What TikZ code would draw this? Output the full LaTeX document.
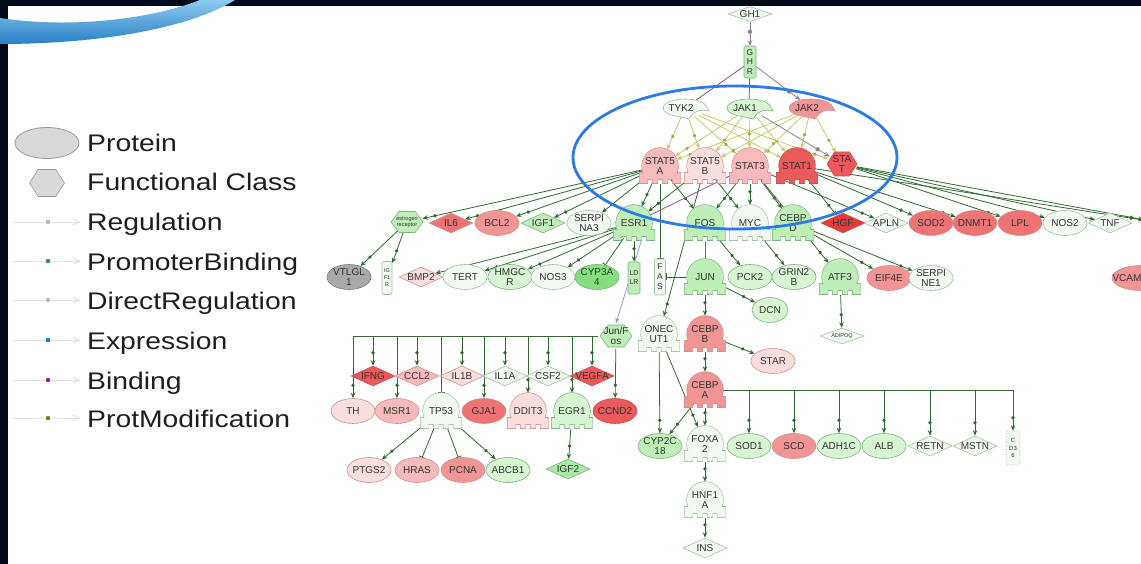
\documentclass[tikz,border=0pt]{standalone}
\usepackage{fontspec}
\setmainfont{Liberation Sans}
\usepackage{graphicx}
\usetikzlibrary{shapes.geometric,arrows.meta,decorations.markings}
\pgfdeclarelayer{bg}
\pgfdeclarelayer{edges}
\pgfsetlayers{bg,edges,main}

\definecolor{tcol}{HTML}{333333}
\definecolor{eG}{HTML}{2F6B2F}
\definecolor{kE}{HTML}{C9C86C}
\definecolor{kD}{HTML}{A6A640}
\definecolor{gE}{HTML}{85859A}
\definecolor{pE}{HTML}{9A4C9A}
\definecolor{lE}{HTML}{9898E4}
\definecolor{fW}{HTML}{F1F9F1}
\definecolor{fLG}{HTML}{D7F5D3}
\definecolor{fG}{HTML}{BDEFB7}
\definecolor{fG2}{HTML}{84DF7E}
\definecolor{fIG}{HTML}{A8EAA2}
\definecolor{fLP}{HTML}{FADDDD}
\definecolor{fP}{HTML}{F6BABA}
\definecolor{fR}{HTML}{F09494}
\definecolor{fR2}{HTML}{EE7474}
\definecolor{fRR}{HTML}{EA5A5A}
\definecolor{fRed}{HTML}{E43A3A}
\definecolor{fGray}{HTML}{A9A9A9}
\definecolor{sW}{HTML}{A3C2A3}
\definecolor{sG}{HTML}{7DB37D}
\definecolor{sP}{HTML}{D29090}
\definecolor{sR}{HTML}{C55252}
\definecolor{sGray}{HTML}{7B7B7B}
\definecolor{frameC}{HTML}{020B1D}
\definecolor{blueC}{HTML}{2A7BE4}
\definecolor{lgF}{HTML}{D9D9D9}
\definecolor{lgS}{HTML}{9A9A9A}
\definecolor{lgL}{HTML}{E2E2E2}
\definecolor{lgT}{HTML}{1E1E1E}
\definecolor{swA}{HTML}{8CCAF0}
\definecolor{swB}{HTML}{2A80C6}
\definecolor{dotReg}{HTML}{B8B8B8}
\definecolor{dotPB}{HTML}{22A032}
\definecolor{dotEx}{HTML}{1E78D8}
\definecolor{dotBi}{HTML}{8B1A8B}
\definecolor{dotPM}{HTML}{7A7A1A}

\newcommand\nf{\fontsize{10}{10.5}\selectfont}
\newcommand\lgf{\fontsize{24}{28}\selectfont}

% transcription regulator: name, x, y, fill, stroke, text
\newcommand\treg[6]{%
\begin{scope}[shift={(#2,#3)}]
\draw[draw=#5,line width=1.3pt] (15.59,9) arc[start angle=30,end angle=-210,radius=18] -- cycle;
\draw[draw=#5,line width=1.3pt] (-20.5,7) -- (20.5,7) -- (20.5,17) -- (12.5,17) -- (12.5,13) -- (7.5,13) -- (7.5,17) -- (2.5,17) -- (2.5,13) -- (-2.5,13) -- (-2.5,17) -- (-7.5,17) -- (-7.5,13) -- (-12.5,13) -- (-12.5,17) -- (-20.5,17) -- cycle;
\fill[#4] (15.59,9) arc[start angle=30,end angle=-210,radius=18] -- cycle;
\fill[#4] (-20.5,7) -- (20.5,7) -- (20.5,17) -- (12.5,17) -- (12.5,13) -- (7.5,13) -- (7.5,17) -- (2.5,17) -- (2.5,13) -- (-2.5,13) -- (-2.5,17) -- (-7.5,17) -- (-7.5,13) -- (-12.5,13) -- (-12.5,17) -- (-20.5,17) -- cycle;
\end{scope}
\node[circle,minimum size=36pt,inner sep=0pt,align=center,font=\nf,text=tcol] (#1) at (#2,#3) {#6};}

% kinase: name, x, y, fill, stroke, text
\newcommand\kin[6]{%
\filldraw[fill=#4,draw=#5,line width=0.6pt,shift={(#2,#3)}] (105:22 and 9) arc[start angle=105,end angle=355,x radius=22,y radius=9] -- (24,3) .. controls (14,1) and (9,3) .. (4,11) -- cycle;
\node[ellipse,minimum width=44pt,minimum height=18pt,inner sep=0pt,font=\nf,text=tcol,label={[font=\nf,text=tcol,inner sep=0pt,xshift=-4pt]center:#6}] (#1) at (#2,#3) {};}

% hexagon: name, x, y, w, h, fill, stroke, font, text
\newcommand\hexn[9]{%
\filldraw[fill=#6,draw=#7,line width=0.6pt,shift={(#2,#3)}] ({-#4/2},0) -- ({-#4/4},{-#5/2}) -- ({#4/4},{-#5/2}) -- ({#4/2},0) -- ({#4/4},{#5/2}) -- ({-#4/4},{#5/2}) -- cycle;
\node[ellipse,minimum width=#4pt,minimum height=#5pt,inner sep=0pt,align=center,font=#8,text=tcol] (#1) at (#2,#3) {#9};}

\begin{document}
\begin{tikzpicture}[x=1pt,y=-1pt,
  lab/.style={font=\nf,text=tcol,align=center,inner sep=0pt},
  ell/.style={ellipse,line width=0.6pt,minimum width=44pt,minimum height=25pt,inner sep=0pt,label={[lab]center:#1}},
  dia/.style={diamond,line width=0.6pt,minimum width=44pt,minimum height=20pt,inner sep=0pt,label={[lab]center:#1}},
  vr/.style={rectangle,line width=0.6pt,rounded corners=1.5pt,inner sep=0.5pt,align=center,text=tcol},
  eg/.style={draw=eG,line width=0.8pt},
  tipA/.style={-{Stealth[length=5.5pt,width=4.5pt]}},
  pb/.style={eg,tipA,postaction={decorate},decoration={markings,mark=at position -13pt with {\fill[eG] (0,0) circle[radius=1.9pt];}}},
  inh/.style={eg,-{Bar[width=7pt]}},
  km/.style={draw=kE,line width=0.8pt,tipA,postaction={decorate},decoration={markings,mark=at position -14pt with {\fill[kD] (0,0) circle[radius=1.9pt];}}},
  gr/.style={draw=gE,line width=0.8pt,tipA,postaction={decorate},decoration={markings,mark=at position -14pt with {\fill[gE] (0,0) circle[radius=2.2pt];}}},
  bind/.style={draw=pE,line width=0.8pt},
  lav/.style={draw=lE,line width=0.8pt,tipA},
  lgtext/.style={anchor=base west,font=\lgf,text=lgT,inner sep=0pt}
]
\useasboundingbox (0,0) rectangle (1141,564);

\begin{pgfonlayer}{bg}
\fill[white] (0,0) rectangle (1141,564);
\fill[frameC] (0,0) rectangle (1141,6);
\fill[frameC] (0,0) rectangle (8,564);
\shade[top color=swA,bottom color=swB] (0,18) .. controls (80,30) and (160,16) .. (200,0) -- (235,0) .. controls (190,28) and (100,44) .. (0,44) -- cycle;
\end{pgfonlayer}

% ---------- legend ----------
\node[ellipse,draw=lgS,fill=lgF,line width=0.8pt,minimum width=64pt,minimum height=31pt] (lgProt) at (47,143) {};
\hexn{lgFC}{47}{183}{35}{27}{lgF}{lgS}{\nf}{}
\node[lgtext] (tProt) at (87,152) {\scalebox{1.18}[1]{Protein}};
\node[lgtext] (tFC) at (87,191) {\scalebox{1.18}[1]{Functional Class}};
\node[lgtext] (tReg) at (87,231) {\scalebox{1.18}[1]{Regulation}};
\node[lgtext] (tPB) at (87,270) {\scalebox{1.18}[1]{PromoterBinding}};
\node[lgtext] (tDR) at (87,309) {\scalebox{1.18}[1]{DirectRegulation}};
\node[lgtext] (tEx) at (87,349) {\scalebox{1.18}[1]{Expression}};
\node[lgtext] (tBi) at (87,389) {\scalebox{1.18}[1]{Binding}};
\node[lgtext] (tPM) at (87,427) {\scalebox{1.18}[1]{ProtModification}};
\foreach \yy in {222,261,300,340,380,418}{
  \draw[lgL,line width=0.9pt] (13,\yy) -- (80,\yy);
  \draw[lgL,line width=0.9pt] (73,\yy-3) -- (79,\yy) -- (73,\yy+3);
}
\fill[dotReg] (45.8,219.8) rectangle (50.2,224.2);
\fill[dotPB] (48,261) circle[radius=2.2];
\fill[dotReg] (48,300) circle[radius=2.2];
\fill[dotEx] (45.8,337.8) rectangle (50.2,342.2);
\fill[dotBi] (48,380) circle[radius=2.2];
\fill[dotPM] (48,418) circle[radius=2.2];

% ---------- top ----------
\node[dia=GH1,fill=fW,draw=sW,minimum height=15pt] (GH1) at (750,14) {};
\node[vr,fill=fG,draw=sG,minimum width=12pt,minimum height=32pt,font=\fontsize{8.5}{9.5}\selectfont] (GHR) at (750,62) {G\\H\\R};
\kin{TYK2}{685}{108}{fW}{sW}{TYK2}
\kin{JAK1}{749}{108}{fLG}{sG}{JAK1}
\kin{JAK2}{811}{108}{fR}{sP}{JAK2}

\treg{STAT5A}{660}{166}{fP}{sP}{STAT5\\A}
\treg{STAT5B}{705}{166}{fLP}{sP}{STAT5\\B}
\treg{STAT3}{750}{166}{fP}{sP}{STAT3}
\treg{STAT1}{797}{166}{fRR}{sR}{STAT1}
\hexn{STAT}{842}{164}{30}{24}{fRR}{sR}{\nf}{STA\\T}

% ---------- row 2 ----------
\hexn{ER}{407}{222}{32}{21}{fG}{sG}{\fontsize{5.5}{6}\selectfont}{estrogen\\receptor}
\node[dia=IL6,fill=fR2,draw=sP] (IL6) at (451,223) {};
\node[ell=BCL2,fill=fR,draw=sP] (BCL2) at (497,223) {};
\node[dia=IGF1,fill=fG,draw=sG] (IGF1) at (543,223) {};
\node[ell={SERPI\\NA3},fill=fW,draw=sW] (SERPINA3) at (589,223) {};
\treg{ESR1}{634}{223}{fG}{sG}{ESR1}
\treg{FOS}{705}{223}{fG}{sG}{FOS}
\treg{MYC}{750}{223}{fW}{sW}{MYC}
\treg{CEBPD}{793}{223}{fG}{sG}{CEBP\\D}
\node[dia=HGF,fill=fRed,draw=sR] (HGF) at (843,223) {};
\node[dia=APLN,fill=fW,draw=sW] (APLN) at (886,223) {};
\node[ell=SOD2,fill=fR2,draw=sP] (SOD2) at (931,223) {};
\node[ell=DNMT1,fill=fR2,draw=sP] (DNMT1) at (975,223) {};
\node[ell=LPL,fill=fR2,draw=sP] (LPL) at (1020,223) {};
\node[ell=NOS2,fill=fW,draw=sW] (NOS2) at (1065,223) {};
\node[dia=TNF,fill=fW,draw=sW] (TNF) at (1110,223) {};
\treg{RED}{1162}{223}{fRR}{sR}{}

% ---------- row 3 ----------
\node[ell={VTLGL\\1},fill=fGray,draw=sGray] (VTLGL1) at (349,277) {};
\node[vr,fill=fW,draw=sW,minimum width=10pt,minimum height=33pt,font=\fontsize{5.5}{7}\selectfont] (IGF1R) at (387,278) {IG\\F1\\R};
\node[dia=BMP2,fill=fLP,draw=sP] (BMP2) at (421,277) {};
\node[ell=TERT,fill=fW,draw=sW] (TERT) at (465,277) {};
\node[ell={HMGC\\R},fill=fLG,draw=sG] (HMGCR) at (510,277) {};
\node[ell=NOS3,fill=fW,draw=sW] (NOS3) at (553,277) {};
\node[ell={CYP3A\\4},fill=fG2,draw=sG] (CYP3A4) at (597,277) {};
\node[vr,fill=fG,draw=sG,minimum width=12pt,minimum height=32pt,font=\fontsize{7}{9}\selectfont] (LDLR) at (634,278) {LD\\LR};
\node[vr,fill=fW,draw=sW,minimum width=11pt,minimum height=36pt,font=\fontsize{8.5}{10}\selectfont] (FAS) at (660,277) {F\\A\\S};
\treg{JUN}{705}{277}{fG}{sG}{JUN}
\node[ell=PCK2,fill=fLG,draw=sG] (PCK2) at (750,277) {};
\node[ell={GRIN2\\B},fill=fLG,draw=sG] (GRIN2B) at (794,277) {};
\treg{ATF3}{840}{277}{fG}{sG}{ATF3}
\node[ell=EIF4E,fill=fR,draw=sP] (EIF4E) at (889,278) {};
\node[ell={SERPI\\NE1},fill=fW,draw=sW] (SERPINE1) at (931,278) {};
\node[ellipse,fill=fR,draw=sP,line width=0.6pt,minimum width=58pt,minimum height=25pt,inner sep=0pt,label={[lab,xshift=-14pt]center:VCAM}] (VCAM1) at (1141,278) {};
\node[ell=DCN,fill=fLG,draw=sG,minimum width=36pt] (DCN) at (770,310) {};
\node[diamond,fill=fW,draw=sW,line width=0.6pt,minimum width=44pt,minimum height=16pt,inner sep=0pt,label={[lab,font=\fontsize{5.5}{6}\selectfont]center:ADIPOQ}] (ADIPOQ) at (842,336) {};

% ---------- row 4 / 5 ----------
\hexn{JunFos}{616}{336}{32}{22}{fG}{sG}{\nf}{Jun/F\\os}
\treg{ONECUT1}{659}{334}{fW}{sW}{ONEC\\UT1}
\treg{CEBPB}{705}{334}{fR}{sP}{CEBP\\B}
\node[ell=STAR,fill=fLP,draw=sP] (STAR) at (773,361) {};
\treg{CEBPA}{705}{390}{fR}{sP}{CEBP\\A}
\node[ell={CYP2C\\18},fill=fG,draw=sG] (CYP2C18) at (660,446) {};
\treg{FOXA2}{705}{444}{fW}{sW}{FOXA\\2}
\node[ell=SOD1,fill=fLG,draw=sG] (SOD1) at (749,446) {};
\node[ell=SCD,fill=fR,draw=sP] (SCD) at (794,446) {};
\node[ell=ADH1C,fill=fLG,draw=sG] (ADH1C) at (839,446) {};
\node[ell=ALB,fill=fLG,draw=sG] (ALB) at (884,446) {};
\node[dia=RETN,fill=fW,draw=sW] (RETN) at (930,446) {};
\node[dia=MSTN,fill=fW,draw=sW] (MSTN) at (975,446) {};
\node[vr,fill=fW,draw=sW,dotted,minimum width=13pt,minimum height=34pt,font=\fontsize{6}{7.5}\selectfont] (CD36) at (1013,448) {C\\D3\\6};
\treg{HNF1A}{705}{500}{fW}{sW}{HNF1\\A}
\node[dia=INS,fill=fW,draw=sW] (INS) at (705,548) {};

% ---------- left cluster ----------
\node[dia=IFNG,fill=fRR,draw=sR] (IFNG) at (373,376) {};
\node[dia=CCL2,fill=fP,draw=sP] (CCL2) at (417,376) {};
\node[dia=IL1B,fill=fLP,draw=sP] (IL1B) at (462,376) {};
\node[dia=IL1A,fill=fW,draw=sW] (IL1A) at (505,376) {};
\node[dia=CSF2,fill=fW,draw=sW] (CSF2) at (548,376) {};
\node[dia=VEGFA,fill=fRR,draw=sR] (VEGFA) at (592,376) {};
\node[ell=TH,fill=fLP,draw=sP] (TH) at (353,411) {};
\node[ell=MSR1,fill=fP,draw=sP] (MSR1) at (397,411) {};
\treg{TP53}{441}{411}{fW}{sW}{TP53}
\node[ell=GJA1,fill=fR2,draw=sP] (GJA1) at (484,411) {};
\treg{DDIT3}{528}{411}{fLP}{sP}{DDIT3}
\treg{EGR1}{572}{411}{fLG}{sG}{EGR1}
\node[ell=CCND2,fill=fRR,draw=sR] (CCND2) at (615,411) {};
\node[ell=PTGS2,fill=fLP,draw=sP] (PTGS2) at (369,470) {};
\node[ell=HRAS,fill=fP,draw=sP] (HRAS) at (417,470) {};
\node[ell=PCNA,fill=fR,draw=sP] (PCNA) at (463,470) {};
\node[ell=ABCB1,fill=fLG,draw=sG] (ABCB1) at (508,470) {};
\node[dia=IGF2,fill=fIG,draw=sG] (IGF2) at (568,469) {};

% ---------- edges ----------
\begin{pgfonlayer}{edges}
\clip (0,0) rectangle (1141,564);
\draw[gr] (GH1) -- (GHR);
\draw[bind] (GHR) -- (TYK2);
\draw[bind] (GHR) -- (JAK1);
\draw[gr] (GHR) -- (JAK2);
\foreach \a/\b in {TYK2/STAT5A,TYK2/STAT5B,TYK2/STAT3,TYK2/STAT1,TYK2/STAT,JAK1/STAT5A,JAK1/STAT5B,JAK1/STAT3,JAK1/STAT1,JAK2/STAT5A,JAK2/STAT5B,JAK2/STAT3,JAK2/STAT1,JAK2/STAT}
  \draw[km] (\a) -- (\b);
\draw[gr] (JAK1) -- (STAT);
\foreach \a/\b in {STAT5A/ER,STAT5A/IL6,STAT5A/BCL2,STAT5A/IGF1,STAT5A/SERPINA3,STAT5A/ESR1,STAT5B/ESR1,STAT5A/FOS,STAT3/FOS,STAT5B/MYC,STAT3/MYC,STAT3/CEBPD,STAT1/HGF,STAT3/APLN,STAT1/SOD2,STAT1/DNMT1,STAT/LPL,STAT/NOS2,STAT/TNF,STAT/RED,STAT1/RED,STAT3/ATF3,CEBPD/EIF4E,CEBPD/SERPINE1,STAT5B/ONECUT1,ER/VTLGL1,ER/IGF1R,ESR1/BMP2,ESR1/TERT,ESR1/HMGCR,ESR1/NOS3,ESR1/LDLR,FOS/PCK2,MYC/GRIN2B,JUN/DCN,ATF3/ADIPOQ,JUN/CEBPB,ONECUT1/CYP2C18,ONECUT1/FOXA2,CEBPB/CEBPA,CEBPB/STAR,CEBPA/CYP2C18,CEBPA/FOXA2,FOXA2/HNF1A,HNF1A/INS,TP53/PTGS2,TP53/ABCB1,EGR1/IGF2,RED/VCAM1,JunFos/CCND2}
  \draw[pb] (\a) -- (\b);
\foreach \a/\b in {STAT5A/FAS,JUN/FAS,ESR1/CYP3A4,TP53/HRAS,TP53/PCNA}
  \draw[inh] (\a) -- (\b);
\draw[bind] (FOS) -- (JUN);
\draw[bind] (STAT3) -- (ESR1);
\draw[lav] (ESR1.-65) -- (JunFos.north);
% Jun/Fos bus
\draw[eg] (JunFos.west) -- (JunFos.west -| TH);
\foreach \t in {TH,IFNG,MSR1,CCL2,IL1B,GJA1,IL1A,DDIT3,CSF2,EGR1,VEGFA}
  \draw[pb] (\t |- JunFos.west) -- (\t);
\draw[inh] (TP53 |- JunFos.west) -- (TP53);
% CEBPA bus
\draw[eg] (CEBPA.east) -- (CEBPA.east -| CD36);
\foreach \t in {SOD1,SCD,ADH1C,ALB,RETN,MSTN,CD36}
  \draw[pb] (\t |- CEBPA.east) -- (\t);
\end{pgfonlayer}

% highlight ellipse
\draw[blueC,line width=2.8pt] (735,157.5) ellipse [x radius=162,y radius=71.5];
\end{tikzpicture}
\end{document}
